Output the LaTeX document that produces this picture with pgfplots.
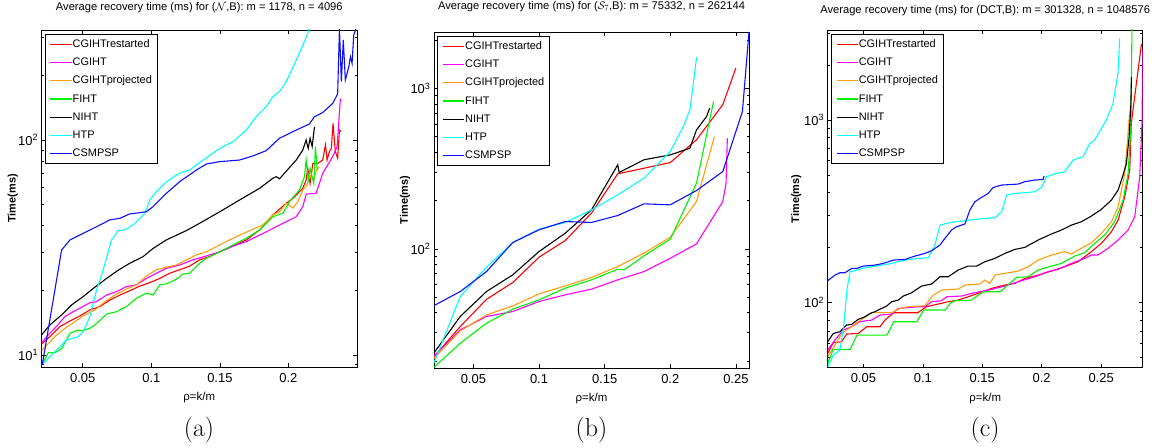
\documentclass[border=0pt]{standalone}
\usepackage{pgfplots}
\pgfplotsset{compat=1.18}
\usepackage{fontspec}
\newfontfamily\arial{Liberation Sans}
\definecolor{cRed}{rgb}{1,0,0}
\definecolor{cMag}{rgb}{1,0,1}
\definecolor{cOra}{rgb}{1,0.62,0.05}
\definecolor{cGre}{rgb}{0,0.95,0}
\definecolor{cBla}{rgb}{0,0,0}
\definecolor{cCya}{rgb}{0,1,1}
\definecolor{cBlu}{rgb}{0.05,0.05,1}

\pgfplotsset{
  legend image code/.code={\draw[#1, line width=1.2bp] (0bp,0bp) -- (21bp,0bp);},
}
\pgfplotsset{
  recov/.style={
    scale only axis,
    xmin=0.02,
    axis line style={line width=0.8bp},
    tick align=inside,
    major tick length=4bp,
    minor tick length=2.5bp,
    tick style={black, line width=0.6bp},
    every tick label/.append style={font=\arial\fontsize{13}{15}\selectfont},
    xticklabel style={yshift=-2.5bp},
    xlabel={ρ=k/m},
    ylabel={\bfseries Time(ms)},
    xlabel style={font=\arial\fontsize{11.5}{13}\selectfont, at={(axis description cs:0.5,-0.091)}, anchor=center},
    ylabel style={font=\arial\fontsize{11}{13}\selectfont, anchor=center},
    title style={font=\arial\fontsize{11.2}{13}\selectfont, at={(axis description cs:0.5,1)}, anchor=base},
    every axis plot/.append style={line width=1.1bp, no markers},
    legend cell align=left,
    legend style={at={(axis description cs:0,1)}, anchor=north west,
      xshift=3.4bp, yshift=-4.5bp, draw=black, line width=0.8bp,
      font=\arial\fontsize{11}{13}\selectfont, inner xsep=4.5bp, inner ysep=3.5bp,
      row sep=6.3bp, nodes={inner sep=0.6bp, text height=8.5bp, text depth=2.2bp}},
  }
}

\begin{document}
\begin{tikzpicture}
\path[use as bounding box] (0,0) rectangle (1167bp,448bp);

% ---------------- (a) ----------------
\begin{axis}[recov, ymode=log, at={(41.6bp,81bp)}, width=315.4bp, height=337bp,
  xmax=0.25, ymin=8.79, ymax=324.8,
  xtick={0.05,0.1,0.15,0.2}, xticklabels={0.05,0.1,0.15,0.2},
  ytick={10,100}, yticklabels={10\textsuperscript{1},10\textsuperscript{2}},
  minor ytick={9,20,30,40,50,60,70,80,90,200,300},
  ylabel style={at={(axis description cs:-0.091,0.5)}},
  title style={yshift=13.5bp},
  title={Average recovery time (ms) for ($\mathcal{N}$,B): m = 1178, n = 4096}]
\addplot[cRed] coordinates {(0.020,11.25) (0.0261,12.17) (0.0334,13.55) (0.0407,14.4) (0.048,15.2) (0.0552,16.2) (0.0625,16.8) (0.0698,18.0) (0.0771,19.0) (0.0843,19.9) (0.0916,20.9) (0.0989,21.7) (0.1062,22.7) (0.1135,24.0) (0.1207,24.9) (0.128,25.9) (0.1353,27.7) (0.1426,28.7) (0.15,30.2) (0.1596,32.1) (0.1693,34.3) (0.179,38.2) (0.1887,44.8) (0.1984,50.8) (0.2033,53.5) (0.2105,59.6) (0.2129,65.2) (0.2141,73.8) (0.2158,62.8) (0.2178,77.8) (0.2214,77.8) (0.225,80.7) (0.227,94.9) (0.2282,80.7) (0.2299,88.3) (0.2313,91.4) (0.2325,119.5) (0.2342,88.3) (0.2359,82.2) (0.2372,111.3) (0.2382,109.4)};
\addlegendentry{CGIHTrestarted}
\addplot[cMag] coordinates {(0.020,11.4) (0.0249,12.4) (0.031,13.6) (0.037,15.08) (0.0431,15.9) (0.048,16.5) (0.0552,17.5) (0.0601,17.7) (0.0674,19.0) (0.0746,19.7) (0.0819,20.8) (0.0892,21.2) (0.0965,22.7) (0.1037,24.0) (0.111,25.3) (0.1207,26.2) (0.1305,27.7) (0.1402,28.9) (0.15,30.2) (0.1596,32.1) (0.1693,33.7) (0.179,36.1) (0.1887,38.8) (0.1984,41.7) (0.2057,44.0) (0.2105,49.0) (0.2129,56.0) (0.2202,56.5) (0.225,70.0) (0.2323,83.7) (0.2355,93.2) (0.2379,156)};
\addlegendentry{CGIHT}
\addplot[cOra] coordinates {(0.02,10.5) (0.0249,11.3) (0.031,12.4) (0.037,13.3) (0.0431,14.1) (0.0504,15.2) (0.0589,16.2) (0.0662,17.7) (0.0734,19.0) (0.0807,20.1) (0.0892,21.2) (0.0965,23.3) (0.1037,24.9) (0.111,25.6) (0.1183,26.2) (0.1256,27.7) (0.1329,29.2) (0.1402,30.2) (0.1475,31.9) (0.1547,33.7) (0.1644,36.1) (0.1741,38.4) (0.1814,40.3) (0.1887,44.8) (0.1935,46.4) (0.1984,50.8) (0.2033,48.2) (0.2069,51.7) (0.2105,58.6) (0.2129,60.7) (0.2158,68.0) (0.2182,65.2) (0.2207,72.5) (0.2226,75.2)};
\addlegendentry{CGIHTprojected}
\addplot[cGre] coordinates {(0.020,8.99) (0.0249,10.25) (0.0298,10.25) (0.0346,10.7) (0.0407,12.6) (0.0455,13.0) (0.0504,13.0) (0.0552,13.3) (0.0601,14.0) (0.0674,15.5) (0.0746,15.9) (0.0819,16.8) (0.0892,18.35) (0.0965,19.4) (0.1013,19.0) (0.1062,21.2) (0.111,21.4) (0.1183,22.5) (0.1232,23.8) (0.128,24.0) (0.1353,26.7) (0.1402,28.2) (0.15,30.2) (0.1596,32.5) (0.1693,34.9) (0.179,38.2) (0.1887,44.0) (0.1959,45.6) (0.2008,51.7) (0.2081,58.6) (0.2117,67.5) (0.2129,80.7) (0.2144,65.2) (0.2158,73.8) (0.2173,67.5) (0.2185,62.8) (0.2197,93.2) (0.221,72.5)};
\addlegendentry{FIHT}
\addplot[cBla] coordinates {(0.020,12.4) (0.0261,13.8) (0.0346,15.35) (0.0419,17.1) (0.0504,18.7) (0.0577,20.4) (0.0674,22.7) (0.0759,24.8) (0.0843,26.7) (0.0941,28.7) (0.1013,31.3) (0.111,34.3) (0.1256,37.9) (0.1353,41.0) (0.15,46.4) (0.1644,52.6) (0.179,59.6) (0.1887,66.4) (0.1911,67.5) (0.1935,66.0) (0.2057,80.7) (0.2105,89.8) (0.2129,100) (0.2144,91.4) (0.2158,101.8) (0.2173,93.2) (0.219,115.1)};
\addlegendentry{NIHT}
\addplot[cCya] coordinates {(0.0208,9.08) (0.0261,9.82) (0.0322,10.74) (0.0382,11.75) (0.0431,11.96) (0.0467,12.17) (0.0504,12.84) (0.0552,15.08) (0.0601,20.07) (0.0649,24.87) (0.071,34.3) (0.0759,37.8) (0.0807,38.2) (0.0868,40.3) (0.0916,43.2) (0.0953,45.6) (0.0989,52.6) (0.1037,57.5) (0.111,64.0) (0.1183,68.7) (0.1232,71.2) (0.128,72.5) (0.1329,76.6) (0.1378,80.7) (0.1499,91.4) (0.1596,98.2) (0.1693,111.3) (0.1765,128.4) (0.1838,142.9) (0.1887,159) (0.1935,168) (0.1984,187) (0.2057,235) (0.2117,287) (0.2141,313) (0.2154,340)};
\addlegendentry{HTP}
\addplot[cBlu] coordinates {(0.0205,9.0) (0.0346,30.8) (0.0407,34.3) (0.0504,36.8) (0.0601,39.5) (0.0698,42.5) (0.0771,43.2) (0.0843,45.3) (0.0916,45.9) (0.0965,46.4) (0.1013,49.0) (0.111,56.5) (0.1207,64.0) (0.1329,72.5) (0.1401,77.3) (0.1498,79.3) (0.1595,80.2) (0.1644,80.7) (0.1741,84.3) (0.1838,89.2) (0.1935,101.9) (0.2033,109.4) (0.2153,118.7) (0.219,128.4) (0.225,134.1) (0.2323,148.1) (0.2359,163.8) (0.2372,330) (0.2386,186.7) (0.24,292) (0.2415,190) (0.244,219) (0.2452,244) (0.2464,227) (0.2476,307) (0.2493,330)};
\addlegendentry{CSMPSP}
\end{axis}

% ---------------- (b) ----------------
\begin{axis}[recov, ymode=log, at={(434bp,80bp)}, width=315bp, height=336bp,
  xmax=0.26, ymin=18.1, ymax=2245,
  xtick={0.05,0.1,0.15,0.2,0.25}, xticklabels={0.05,0.1,0.15,0.2,0.25},
  ytick={100,1000}, yticklabels={10\textsuperscript{2},10\textsuperscript{3}},
  minor ytick={20,30,40,50,60,70,80,90,200,300,400,500,600,700,800,900,2000},
  ylabel style={at={(axis description cs:-0.092,0.5)}},
  title style={yshift=17bp},
  title={Average recovery time (ms) for ($\mathcal{S}_7$,B): m = 75332, n = 262144}]
\addplot[cRed] coordinates {(0.02,21.3) (0.04,32.8) (0.06,48.5) (0.08,61.7) (0.10,88.7) (0.12,112.7) (0.14,167) (0.16,293.5) (0.18,318) (0.20,345) (0.22,478) (0.24,790) (0.25,1340)};
\addlegendentry{CGIHTrestarted}
\addplot[cMag] coordinates {(0.02,21.5) (0.04,31.3) (0.06,37.9) (0.08,40.7) (0.10,47.0) (0.12,51.7) (0.14,56.1) (0.16,64.1) (0.18,72.2) (0.20,87.4) (0.22,107.4) (0.24,197) (0.2425,255) (0.2435,490)};
\addlegendentry{CGIHT}
\addplot[cOra] coordinates {(0.02,20.8) (0.04,30.8) (0.06,38.8) (0.08,44.1) (0.10,52.4) (0.12,58.8) (0.14,66.3) (0.16,77.6) (0.18,94) (0.20,118.2) (0.22,197) (0.2336,501)};
\addlegendentry{CGIHTprojected}
\addplot[cGre] coordinates {(0.02,18.3) (0.04,25.8) (0.06,34.4) (0.08,42.1) (0.10,48.1) (0.12,56.9) (0.14,64.1) (0.16,74.7) (0.165,74.0) (0.18,90.4) (0.20,114.9) (0.22,256.6) (0.233,829)};
\addlegendentry{FIHT}
\addplot[cBla] coordinates {(0.02,22.5) (0.04,37.9) (0.06,54.2) (0.08,68.9) (0.10,96.2) (0.12,125.2) (0.14,175) (0.16,334) (0.161,299) (0.18,359) (0.20,385) (0.215,424) (0.22,551) (0.2277,668) (0.23,753)};
\addlegendentry{NIHT}
\addplot[cCya] coordinates {(0.02,19.5) (0.04,50.4) (0.06,76.9) (0.08,109.5) (0.10,132.6) (0.12,146) (0.14,175) (0.16,217) (0.18,276) (0.20,404) (0.21,579) (0.215,735) (0.22,1545) (0.2205,1560)};
\addlegendentry{HTP}
\addplot[cBlu] coordinates {(0.02,44.3) (0.04,54.2) (0.06,72.2) (0.08,109.5) (0.10,131.4) (0.12,148) (0.14,146) (0.16,161.4) (0.18,190.8) (0.20,188) (0.22,231) (0.24,303) (0.255,718) (0.2585,1600) (0.26,2250)};
\addlegendentry{CSMPSP}
\end{axis}

% ---------------- (c) ----------------
\begin{axis}[recov, ymode=log, at={(827.7bp,80.3bp)}, width=315bp, height=337.7bp,
  xmax=0.285, ymin=44.1, ymax=3110,
  xtick={0.05,0.1,0.15,0.2,0.25}, xticklabels={0.05,0.1,0.15,0.2,0.25},
  ytick={100,1000}, yticklabels={10\textsuperscript{2},10\textsuperscript{3}},
  minor ytick={50,60,70,80,90,200,300,400,500,600,700,800,900,2000,3000},
  ylabel style={at={(axis description cs:-0.1,0.5)}},
  title style={yshift=11bp},
  title={Average recovery time (ms) for (DCT,B): m = 301328, n = 1048576}]
\addplot[cRed] coordinates {(0.02,52.8) (0.0247,60.4) (0.0317,61.2) (0.0359,67.4) (0.0457,67.9) (0.0528,73.9) (0.064,73.9) (0.0682,80.4) (0.0755,88.1) (0.0957,88.1) (0.1032,95.1) (0.1214,101.3) (0.1298,103.4) (0.1382,107.8) (0.1466,112.5) (0.1522,115.8) (0.1578,119.8) (0.169,125) (0.1775,127.6) (0.1858,135.9) (0.197,141.6) (0.211,151) (0.2194,157.4) (0.2306,167.6) (0.2418,190.3) (0.2502,211.3) (0.2587,244.7) (0.2643,283.4) (0.2699,380) (0.2741,532) (0.2754,959) (0.2838,2570) (0.285,2640)};
\addlegendentry{CGIHTrestarted}
\addplot[cMag] coordinates {(0.02,55.1) (0.0261,62.5) (0.0331,70.9) (0.0401,73.9) (0.0471,78.7) (0.057,80.4) (0.064,85.6) (0.0738,86.7) (0.0794,93.1) (0.0962,95.1) (0.1018,95.1) (0.1074,101.3) (0.1158,102.5) (0.12,107.8) (0.1326,108.8) (0.141,112.5) (0.1578,118.3) (0.169,123.4) (0.1802,130.3) (0.1942,138.7) (0.2054,147.9) (0.2138,152.2) (0.225,164.2) (0.2362,174.9) (0.2418,182.4) (0.2474,182.4) (0.2558,198.3) (0.2643,220.3) (0.2727,249.9) (0.2783,295.6) (0.2825,489.6) (0.2845,1000) (0.285,2415)};
\addlegendentry{CGIHT}
\addplot[cOra] coordinates {(0.02,50.6) (0.0261,58.6) (0.0317,67.9) (0.0401,73.9) (0.0457,78.7) (0.057,88.2) (0.0738,88.2) (0.0808,93.1) (0.0878,95.1) (0.1018,96.3) (0.1088,110.1) (0.1158,117.3) (0.1298,118.8) (0.1354,125) (0.148,126.5) (0.1522,133.1) (0.1564,127.6) (0.1607,141.7) (0.1719,145.9) (0.1803,149) (0.1887,157.4) (0.197,171.2) (0.2082,182.4) (0.2194,190.3) (0.225,184.7) (0.2306,194.2) (0.2418,213) (0.2502,239.6) (0.2587,277.5) (0.2643,335.3) (0.2699,510.5) (0.2735,1000) (0.2755,1300)};
\addlegendentry{CGIHTprojected}
\addplot[cGre] coordinates {(0.02,46.5) (0.0247,55.6) (0.039,55.6) (0.0446,66.5) (0.0699,66.5) (0.0755,78.7) (0.095,78.7) (0.1007,91.2) (0.1189,91.2) (0.123,99.2) (0.1272,102.6) (0.1398,102.6) (0.151,114.9) (0.1651,114.9) (0.1791,137.8) (0.1886,138.7) (0.197,151) (0.2082,158.7) (0.2166,164.2) (0.2278,180) (0.2362,187.9) (0.2446,211.3) (0.253,234.4) (0.2614,277.5) (0.2685,364.7) (0.2727,510.5) (0.275,900) (0.276,3300)};
\addlegendentry{FIHT}
\addplot[cBla] coordinates {(0.02,61.2) (0.0247,67.9) (0.0303,69.4) (0.0359,75.5) (0.0401,76.1) (0.0457,81.1) (0.0514,83.8) (0.0556,87.4) (0.0598,89.3) (0.0654,93.1) (0.0696,95.9) (0.0738,101.3) (0.0794,103.4) (0.0836,108.8) (0.0906,113.4) (0.099,123.4) (0.1074,126.5) (0.1144,138.7) (0.1214,138.7) (0.1298,151) (0.1382,158.7) (0.1452,158.7) (0.1522,167.6) (0.1607,174.9) (0.1691,186.2) (0.1775,195.9) (0.1858,200.8) (0.197,220.3) (0.2082,237.7) (0.2166,249.9) (0.225,266) (0.2334,277.5) (0.2418,298) (0.2502,324.4) (0.2587,364.7) (0.2643,413.7) (0.2685,500) (0.2713,579) (0.2735,800) (0.275,1200) (0.2755,1718)};
\addlegendentry{NIHT}
\addplot[cCya] coordinates {(0.02,44.6) (0.0247,51.7) (0.0303,55.1) (0.0334,73.9) (0.0362,117.3) (0.0387,147.8) (0.0429,149.6) (0.0486,154.1) (0.057,157.4) (0.0654,160.7) (0.0738,164.2) (0.085,171.2) (0.0962,174.9) (0.1046,176.3) (0.1102,206.9) (0.1144,266) (0.12,271.6) (0.127,277.4) (0.1354,281) (0.1438,285.8) (0.1522,289.4) (0.1607,292) (0.1663,314.7) (0.1705,388) (0.1774,396.7) (0.1858,400) (0.1942,405) (0.1999,427.7) (0.2041,489.5) (0.2125,510.5) (0.2195,521) (0.2223,555) (0.2265,604) (0.2348,630) (0.2404,745) (0.2446,777) (0.2544,1000) (0.26,1233) (0.2642,1800) (0.2656,2800)};
\addlegendentry{HTP}
\addplot[cBlu] coordinates {(0.02,131.9) (0.0261,141.7) (0.0303,145.9) (0.0345,145.9) (0.0401,154.1) (0.0443,154.1) (0.05,158.7) (0.0598,160.7) (0.0668,164.2) (0.0752,171.2) (0.085,172.6) (0.0934,180) (0.1018,186.2) (0.1074,192.6) (0.1144,206.9) (0.1186,225) (0.1242,250) (0.1284,260.6) (0.1354,269.6) (0.1396,321.4) (0.1438,357) (0.1494,377) (0.155,396.7) (0.1592,427.7) (0.1662,440.5) (0.1802,446) (0.1858,459.6) (0.1942,469.3) (0.2012,473) (0.202,493)};
\addlegendentry{CSMPSP}
\end{axis}

% sub-figure captions
\node[font=\fontsize{26}{30}\selectfont] at (199bp,18bp) {(a)};
\node[font=\fontsize{26}{30}\selectfont] at (591.5bp,18bp) {(b)};
\node[font=\fontsize{26}{30}\selectfont] at (985bp,18bp) {(c)};
\end{tikzpicture}
\end{document}
